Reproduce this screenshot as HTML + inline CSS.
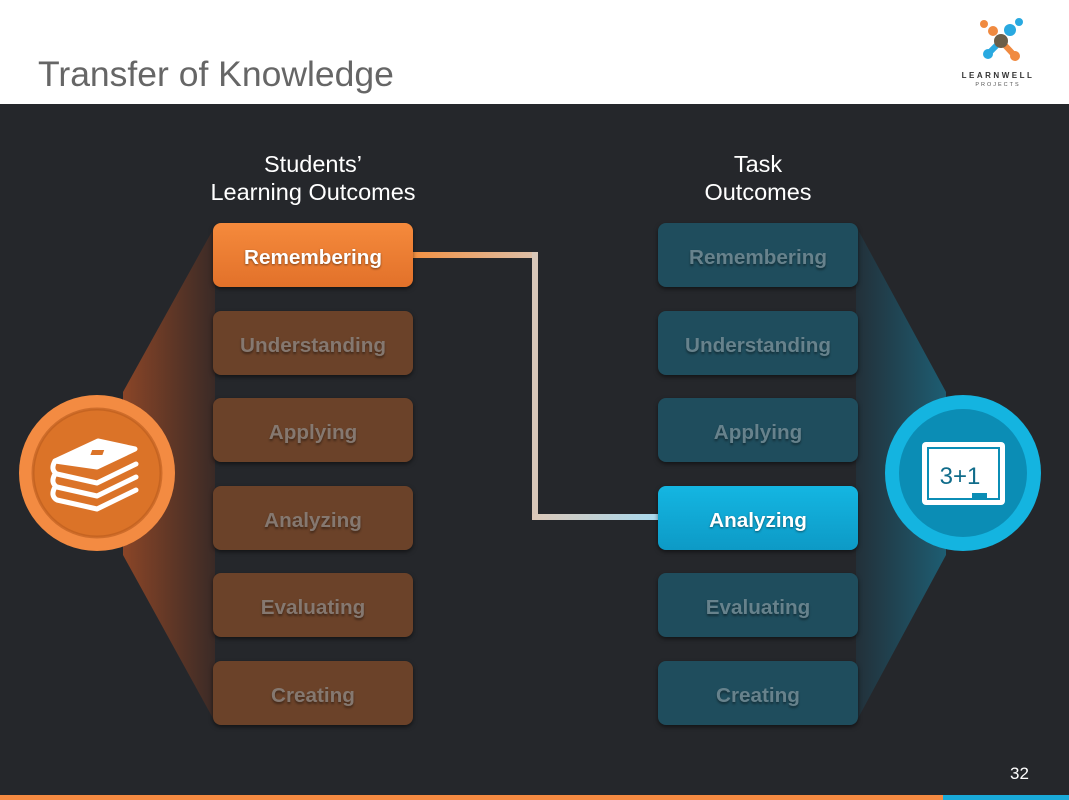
<!DOCTYPE html>
<html><head><meta charset="utf-8"><style>
body{margin:0;width:1069px;height:800px;overflow:hidden;font-family:"Liberation Sans",sans-serif;background:#25272b;position:relative}
.hdr{position:absolute;left:0;top:0;width:1069px;height:104px;background:#fff}
.title{position:absolute;left:38px;top:54px;font-size:35.5px;color:#666}
.box{position:absolute;width:200px;height:64px;border-radius:8px;display:flex;align-items:center;justify-content:center;font-weight:bold;font-size:20.7px;padding-top:5px;box-sizing:border-box;box-shadow:0 2px 4px rgba(0,0,0,.5)}
.l{left:213px;background:#6b4229;color:#857870;text-shadow:0 2px 2px rgba(0,0,0,.4)}
.r{left:658px;background:#1f4d5d;color:#67828c;text-shadow:0 2px 2px rgba(0,0,0,.4)}
.hl{left:213px;background:linear-gradient(#f58a3c,#e2712a);color:#fff;text-shadow:0 1px 2px rgba(0,0,0,.5)}
.hr{left:658px;background:linear-gradient(#14b6e2,#0d9ac6);color:#fff;text-shadow:0 1px 2px rgba(0,0,0,.5)}
.hd{position:absolute;color:#fff;font-size:23.5px;text-align:center;line-height:28px}
</style></head><body>
<div class="hdr"></div>
<div class="title">Transfer of Knowledge</div>
<svg style="position:absolute;left:0;top:0" width="1069" height="800">
<defs>
<linearGradient id="lg" x1="0" x2="1"><stop offset="0" stop-color="#8a4527"/><stop offset="1" stop-color="#3a2a26"/></linearGradient>
<linearGradient id="rg" x1="1" x2="0"><stop offset="0" stop-color="#1e5d72"/><stop offset="1" stop-color="#223039"/></linearGradient>
<linearGradient id="cg1" x1="0" x2="1"><stop offset="0" stop-color="#f49040"/><stop offset="1" stop-color="#dcc0aa"/></linearGradient>
<linearGradient id="cg2" x1="0" x2="1"><stop offset="0" stop-color="#dcc8b8"/><stop offset="1" stop-color="#a8daf0"/></linearGradient>
</defs>
<g>
<circle cx="984" cy="24" r="4" fill="#f08a40"/><circle cx="993" cy="31" r="5" fill="#f08a40"/>
<circle cx="1019" cy="22" r="4" fill="#29a9e0"/><circle cx="1010" cy="30" r="6" fill="#29a9e0"/>
<line x1="1001" y1="41" x2="988" y2="54" stroke="#29a9e0" stroke-width="6" stroke-linecap="round"/>
<line x1="1001" y1="41" x2="1014" y2="55" stroke="#f08a40" stroke-width="6" stroke-linecap="round"/>
<circle cx="988" cy="54" r="5" fill="#29a9e0"/><circle cx="1015" cy="56" r="5" fill="#f08a40"/>
<circle cx="1001" cy="41" r="7" fill="#6b5e48"/>
<text x="998" y="78" font-size="8" font-weight="bold" fill="#333" text-anchor="middle" letter-spacing="2.5" font-family="Liberation Sans">LEARNWELL</text>
<text x="998" y="86" font-size="5.5" fill="#555" text-anchor="middle" letter-spacing="2" font-family="Liberation Sans">PROJECTS</text>
</g>
<polygon points="215,226 123,392 123,555 215,722" fill="url(#lg)"/>
<polygon points="856,226 946,392 946,555 856,722" fill="url(#rg)"/>
<rect x="410" y="252" width="128" height="6" fill="url(#cg1)"/>
<rect x="532" y="252" width="6" height="268" fill="#d8c6b8"/>
<rect x="532" y="514" width="128" height="6" fill="url(#cg2)"/>
<circle cx="97" cy="473" r="78" fill="#f38b42"/>
<circle cx="97" cy="473" r="64" fill="#db7328"/>
<circle cx="97" cy="473" r="64" fill="none" stroke="#b85a1c" stroke-width="3" opacity=".6"/>
<g fill="none" stroke="#fff" stroke-width="5" stroke-linejoin="round" stroke-linecap="round">
<path d="M55,461 L98,441 L135,449 L97,467 Z" fill="#fff"/>
<path d="M55,461 Q50,470 57,474 L97,483 L136,464"/>
<path d="M55,474 Q50,483 57,487 L97,496 L136,477"/>
<path d="M55,487 Q50,496 57,500 L97,509 L136,490"/>
</g>
<rect x="91" y="450" width="12" height="5" fill="#db7328" transform="skewX(-20) translate(165,0)"/>
<circle cx="963" cy="473" r="78" fill="#14b4e0"/>
<circle cx="963" cy="473" r="64" fill="#0b8db5"/>
<rect x="922" y="442" width="83" height="63" rx="4" fill="#fff"/>
<rect x="928" y="448" width="71" height="51" fill="#fff" stroke="#0b8db5" stroke-width="2"/>
<rect x="972" y="493" width="15" height="5" fill="#0b8db5"/>
<text x="960" y="484" font-size="24" fill="#106c8a" text-anchor="middle" font-family="Liberation Sans">3+1</text>
<rect x="0" y="795" width="943" height="5" fill="#f58a42"/>
<rect x="943" y="795" width="126" height="5" fill="#19a9d8"/>
</svg>
<div class="hd" style="left:163px;top:150px;width:300px">Students’<br>Learning Outcomes</div>
<div class="hd" style="left:658px;top:150px;width:200px">Task<br>Outcomes</div>
<div class="box hl" style="top:223px">Remembering</div>
<div class="box l" style="top:311px">Understanding</div>
<div class="box l" style="top:398px">Applying</div>
<div class="box l" style="top:486px">Analyzing</div>
<div class="box l" style="top:573px">Evaluating</div>
<div class="box l" style="top:661px">Creating</div>
<div class="box r" style="top:223px">Remembering</div>
<div class="box r" style="top:311px">Understanding</div>
<div class="box r" style="top:398px">Applying</div>
<div class="box hr" style="top:486px">Analyzing</div>
<div class="box r" style="top:573px">Evaluating</div>
<div class="box r" style="top:661px">Creating</div>
<div style="position:absolute;left:1010px;top:764px;color:#fff;font-size:17px">32</div>
</body></html>
